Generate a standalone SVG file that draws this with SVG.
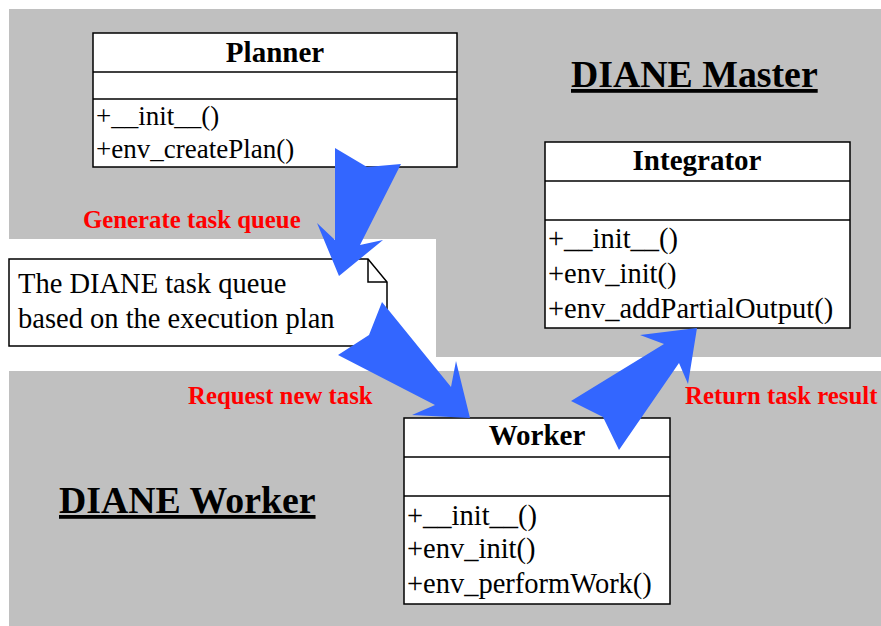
<svg xmlns="http://www.w3.org/2000/svg" width="881" height="626" viewBox="0 0 881 626">
<style>
  .region { fill: #C0C0C0; stroke: none; }
  .box { fill: #FFFFFF; stroke: #000000; stroke-width: 1.5; }
  .sep { stroke: #000000; stroke-width: 1.5; fill: none; }
  .title { font-family: "Liberation Serif", "Times New Roman", serif; font-weight: bold; font-size: 29px; fill: #000; text-anchor: middle; }
  .method { font-family: "Liberation Serif", "Times New Roman", serif; font-size: 28.5px; fill: #000; }
  .method-sm { font-family: "Liberation Serif", "Times New Roman", serif; font-size: 27px; fill: #000; }
  .note { font-family: "Liberation Serif", "Times New Roman", serif; font-size: 28.5px; fill: #000; }
  .header { font-family: "Liberation Serif", "Times New Roman", serif; font-weight: bold; font-size: 37.8px; fill: #000; text-decoration: underline; }
  .label { font-family: "Liberation Serif", "Times New Roman", serif; font-weight: bold; font-size: 24.8px; fill: #FF0000; }
  .arrow { fill: #3366FF; stroke: none; }
</style>
<rect x="0" y="0" width="881" height="626" fill="#FFFFFF"/>
<g id="master-region">
  <polygon class="region" points="9,9 881,9 881,357 436,357 436,239 9,239"/>
  <text class="header" x="571" y="87">DIANE Master</text>
</g>
<g id="worker-region">
  <rect class="region" x="9" y="371" width="872" height="255"/>
  <text class="header" x="59" y="513">DIANE Worker</text>
</g>
<g id="planner">
  <rect class="box" x="93" y="33" width="364" height="134"/>
  <line class="sep" x1="93" y1="72" x2="457" y2="72"/>
  <line class="sep" x1="93" y1="99" x2="457" y2="99"/>
  <text class="title" x="275" y="62">Planner</text>
  <text class="method-sm" x="96" y="125">+__init__()</text>
  <text class="method-sm" x="96" y="158">+env_createPlan()</text>
</g>
<g id="integrator">
  <rect class="box" x="545" y="142" width="305" height="186"/>
  <line class="sep" x1="545" y1="181" x2="850" y2="181"/>
  <line class="sep" x1="545" y1="220" x2="850" y2="220"/>
  <text class="title" x="697" y="170">Integrator</text>
  <text class="method" x="548" y="248">+__init__()</text>
  <text class="method" x="548" y="283">+env_init()</text>
  <text class="method" x="548" y="318">+env_addPartialOutput()</text>
</g>
<g id="worker">
  <rect class="box" x="404" y="418" width="266" height="186"/>
  <line class="sep" x1="404" y1="457" x2="670" y2="457"/>
  <line class="sep" x1="404" y1="496" x2="670" y2="496"/>
  <text class="title" x="537" y="445">Worker</text>
  <text class="method" x="407" y="525">+__init__()</text>
  <text class="method" x="407" y="558">+env_init()</text>
  <text class="method" x="407" y="593">+env_performWork()</text>
</g>
<g id="task-queue-note">
  <path class="box" d="M9,259 L368,259 L387,282 L387,346 L9,346 Z"/>
  <path class="sep" d="M368,259 L368,282 L387,282"/>
  <text class="note" x="18" y="293">The DIANE task queue</text>
  <text class="note" x="18" y="328">based on the execution plan</text>
</g>
<g id="connectors">
  <polygon class="arrow" points="335,148 367,167 401,164 360,245 383,240 339,276 317,223 335,240"/>
  <polygon class="arrow" points="382,302 451,387 456,361 470,418 412,415 435,405 338,355 369,335"/>
  <polygon class="arrow" points="697,328 640,335 664,344 571,401 603,417 619,450 679,363 688,384"/>
  <text class="label" x="83" y="228">Generate task queue</text>
  <text class="label" x="188" y="404">Request new task</text>
  <text class="label" x="685" y="404">Return task result</text>
</g>
</svg>
